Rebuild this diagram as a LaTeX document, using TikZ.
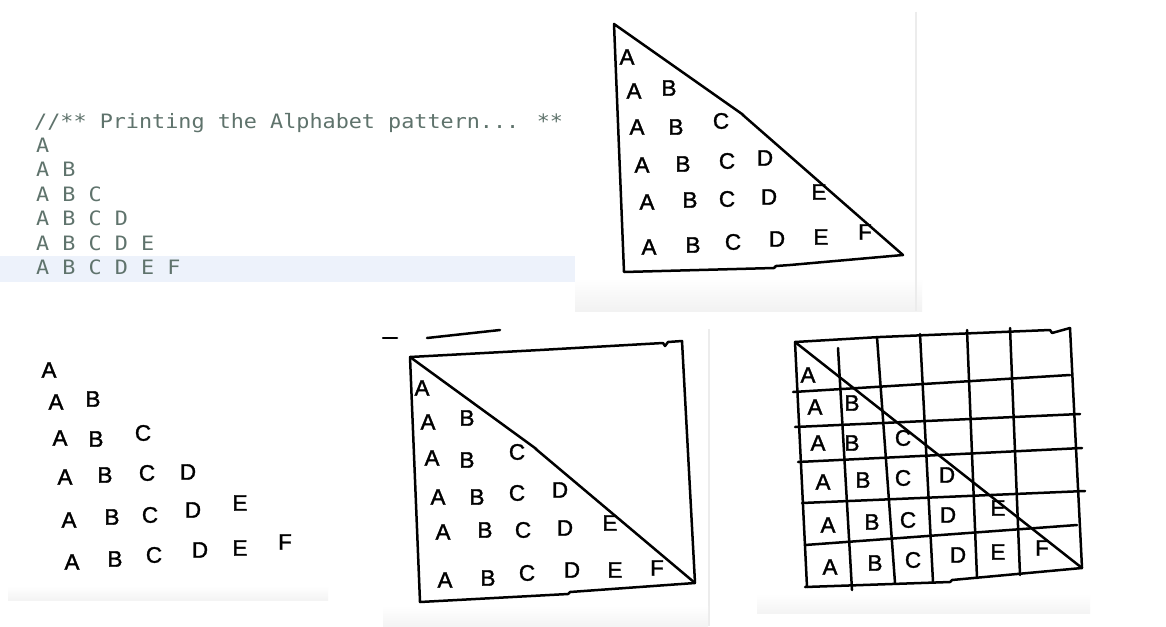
\documentclass[tikz,border=0pt]{standalone}
\usepackage{fontspec}
\setmainfont{Liberation Sans}
\newfontfamily\codefont[FakeStretch=1.1]{DejaVu Sans Mono}
\newfontfamily\handfont[FakeBold=1.6]{Liberation Sans}
\definecolor{codegray}{RGB}{95,115,108}
\definecolor{hilite}{RGB}{237,242,251}
\definecolor{panelgray}{RGB}{236,236,236}
\begin{document}
\begin{tikzpicture}[x=1pt,y=-1pt,
  pen/.style={line width=2.5pt, line join=round, line cap=round, draw=black},
  hand/.style={font=\handfont\fontsize{22.5}{22.5}\selectfont, inner sep=0pt},
  code/.style={font=\codefont\fontsize{19.8}{20}\selectfont, text=codegray, inner sep=0pt, anchor=base west},
  edge/.style={draw=panelgray, line width=1.6pt}]
\useasboundingbox (0,0) rectangle (1166,626);
\fill[white] (0,0) rectangle (1166,626);

% ---------- code panel ----------
\fill[hilite] (0,256) rectangle (575,282);
\node[code] (hdr) at (34,128) {//** Printing the Alphabet pattern... **};
\node[code] (c1) at (36,152) {A};
\node[code] (c2) at (36,176.5) {A B};
\node[code] (c3) at (36,201) {A B C};
\node[code] (c4) at (36,225.5) {A B C D};
\node[code] (c5) at (36,250) {A B C D E};
\node[code] (c6) at (36,274.5) {A B C D E F};

% ---------- panel backgrounds ----------
\shade[top color=white, bottom color=panelgray!70] (575,278) rectangle (922,311);
\draw[edge] (916,12) -- (916,311);
\shade[top color=white, bottom color=panelgray!60] (8,586) rectangle (328,600);
\draw[edge] (709,329) -- (709,626);
\shade[top color=white, bottom color=panelgray!60] (383,606) rectangle (708,626);
\shade[top color=white, bottom color=panelgray!60] (757,594) rectangle (1090,613);

% ---------- top-right triangle ----------
\draw[pen] (614,24) -- (742,114) -- (744,116) -- (903,255) -- (790,265) -- (776,266) -- (774,268) -- (624,272) -- cycle;
\foreach \px/\py/\l [count=\i] in {
  627/57/A,
  634/91/A, 669/88/B,
  637/127/A, 676/127/B, 721/121/C,
  642/165/A, 683/164/B, 727/161/C, 765/158/D,
  647/202/A, 690/200/B, 727/199/C, 769/197/D, 819/192/E,
  649/247/A, 693/245/B, 733/242/C, 777/239/D, 821/237/E, 865/232/F}
  \node[hand] (tr\i) at (\px,\py) {\l};

% ---------- bottom-left letters ----------
\foreach \px/\py/\l [count=\i] in {
  49/370/A,
  56/402/A, 93/399/B,
  60/438/A, 96/439/B, 143/433/C,
  65/477/A, 105/475/B, 147/473/C, 188/472/D,
  69/520/A, 112/517/B, 150/515/C, 193/510/D, 240/503/E,
  72/562/A, 115/559/B, 154/555/C, 200/550/D, 240/548/E, 285/542/F}
  \node[hand] (bl\i) at (\px,\py) {\l};

% ---------- middle square ----------
\draw[pen] (383,338) -- (397,338);
\draw[pen] (427,338) -- (500,330);
\draw[pen] (410,357) -- (540,350) -- (663,343) -- (665,346) -- (668,342) -- (682,341)
  -- (695,583) -- (570,592) -- (568,594) -- (420,602) -- cycle;
\draw[pen] (410,357) -- (535,448) -- (537,450) -- (695,583);
\foreach \px/\py/\l [count=\i] in {
  422/388/A,
  428/422/A, 467/418/B,
  432/458/A, 467/460/B, 517/452/C,
  438/497/A, 477/497/B, 517/493/C, 560/490/D,
  443/532/A, 485/530/B, 523/530/C, 565/528/D, 610/523/E,
  445/580/A, 488/578/B, 527/573/C, 572/570/D, 615/570/E, 657/568/F}
  \node[hand] (md\i) at (\px,\py) {\l};

% ---------- right grid ----------
% verticals
\draw[pen] (795,342) -- (807,587);
\draw[pen] (838,348) -- (852,590);
\draw[pen] (877,337) -- (895,583);
\draw[pen] (920,334) -- (933,582);
\draw[pen] (967,330) -- (977,578);
\draw[pen] (1010,328) -- (1020,575);
\draw[pen] (1070,328) -- (1082,568);
% horizontals
\draw[pen] (795,342) -- (880,337) -- (1050,330) -- (1052,333) -- (1070,328);
\draw[pen] (793,392) -- (1070,375);
\draw[pen] (795,427) -- (1080,414);
\draw[pen] (798,462) -- (1082,448);
\draw[pen] (802,503) -- (1085,491);
\draw[pen] (805,545) -- (1077,525);
\draw[pen] (805,587) -- (950,582) -- (952,580) -- (1082,568);
% diagonal
\draw[pen] (795,342) -- (1082,568);
\foreach \px/\py/\l [count=\i] in {
  808/375/A,
  815/407/A, 852/403/B,
  818/443/A, 852/443/B, 903/438/C,
  823/482/A, 863/480/B, 903/478/C, 947/475/D,
  828/525/A, 872/522/B, 908/520/C, 948/515/D, 998/508/E,
  830/567/A, 875/563/B, 913/560/C, 958/555/D, 998/552/E, 1042/548/F}
  \node[hand] (gr\i) at (\px,\py) {\l};
\end{tikzpicture}
\end{document}
